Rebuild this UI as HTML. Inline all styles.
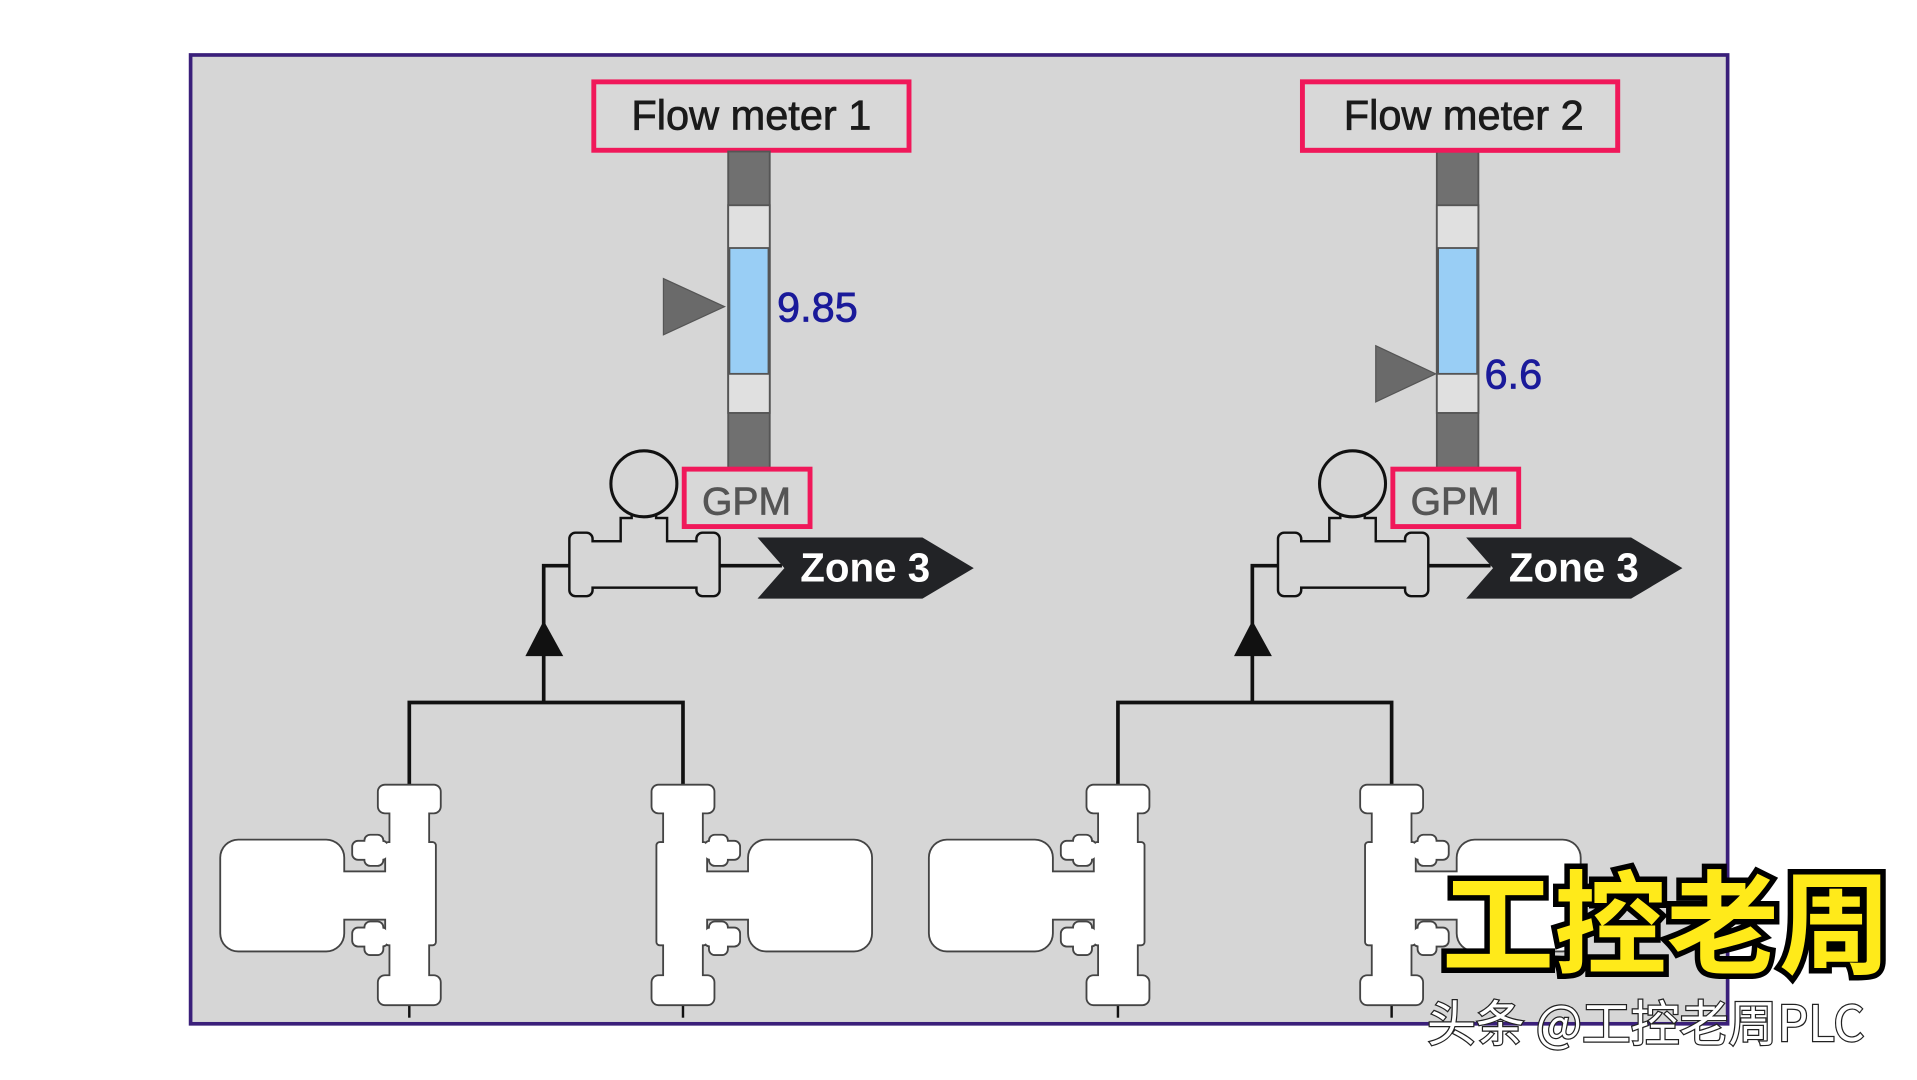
<!DOCTYPE html>
<html><head><meta charset="utf-8"><style>
html,body{margin:0;padding:0;background:#fff;width:1917px;height:1080px;overflow:hidden}
svg{display:block}
text{font-family:"Liberation Sans","Noto Sans CJK SC",sans-serif}
</style></head><body>
<svg width="1917" height="1080" viewBox="0 0 1569 884" preserveAspectRatio="none" xmlns="http://www.w3.org/2000/svg">
<defs>
<g id="pumpShapes">
  <rect x="-25" y="643" width="50" height="22" rx="5"/>
  <rect x="-15.5" y="660" width="31" height="35"/>
  <rect x="-19" y="690" width="40" height="83" rx="2"/>
  <rect x="-15.5" y="768" width="31" height="35"/>
  <rect x="-25" y="799" width="50" height="23" rx="5"/>
  <rect x="-154" y="688" width="100" height="90" rx="14"/>
  <rect x="-58" y="714" width="42" height="38"/>
  <rect x="-46" y="689" width="28" height="14" rx="4"/>
  <rect x="-36" y="684" width="14" height="24" rx="4"/>
  <rect x="-46" y="760" width="28" height="14" rx="4"/>
  <rect x="-36" y="755" width="14" height="26" rx="4"/>
</g>
<g id="pump">
  <use href="#pumpShapes" fill="#fff" stroke="#444" stroke-width="3"/>
  <use href="#pumpShapes" fill="#fff" stroke="none"/>
</g>
<g id="pipeShapes">
  <rect x="467" y="437" width="17" height="50" rx="4"/>
  <rect x="571" y="437" width="17" height="50" rx="4"/>
  <rect x="478" y="444" width="99" height="36"/>
  <rect x="509" y="425" width="36" height="22"/>
  <rect x="518" y="405" width="18" height="25"/>
</g>
<g id="unit">
  <rect x="486" y="67" width="258" height="56" fill="#d8d8d8" stroke="#f0185a" stroke-width="4"/>
  <text x="615" y="106" font-size="34" text-anchor="middle" fill="#1a1a1a" stroke="#1a1a1a" stroke-width="0.6">Flow meter 1</text>
  <rect x="596" y="124" width="34" height="259" fill="#707070" stroke="#555" stroke-width="1.5"/>
  <rect x="596" y="168" width="34" height="170" fill="#e0e0e0" stroke="#555" stroke-width="1.5"/>
  <polyline points="467,463 445,463 445,575" fill="none" stroke="#111" stroke-width="3"/>
  <polyline points="335,643 335,575 559,575 559,643" fill="none" stroke="#111" stroke-width="3"/>
  <line x1="588" y1="463" x2="640" y2="463" stroke="#111" stroke-width="3"/>
  <polygon points="445,508 430,537 461,537" fill="#111"/>
  <line x1="335" y1="822" x2="335" y2="833" stroke="#111" stroke-width="2"/>
  <line x1="559" y1="822" x2="559" y2="833" stroke="#111" stroke-width="2"/>
  <use href="#pipeShapes" fill="#d6d6d6" stroke="#111" stroke-width="4"/>
  <use href="#pipeShapes" fill="#d6d6d6" stroke="none"/>
  <circle cx="527" cy="396" r="26" fill="#d6d6d6"/>
  <circle cx="527" cy="396" r="27" fill="none" stroke="#111" stroke-width="2.5"/>
  <rect x="560" y="384" width="103" height="47" fill="#d8d8d8" stroke="#f0185a" stroke-width="4"/>
  <text x="611" y="421" font-size="32" text-anchor="middle" fill="#555" stroke="#555" stroke-width="0.6">GPM</text>
  <polygon points="620,440 755,440 797,465 755,490 620,490 642,465" fill="#222326"/>
  <text x="655" y="476" font-size="33" fill="#fff" font-weight="bold">Zone 3</text>
  <use href="#pump" transform="translate(335,0)"/>
  <use href="#pump" transform="translate(559,0) scale(-1,1)"/>
</g>
</defs>
<rect x="156" y="45" width="1258" height="793" fill="#d6d6d6" stroke="#3a1f7a" stroke-width="3"/>
<use href="#unit"/>
<use href="#unit" transform="translate(580,0)"/>
<rect x="1066" y="67" width="258" height="56" fill="#d8d8d8" stroke="#f0185a" stroke-width="4"/>
<text x="1198" y="106" font-size="34" text-anchor="middle" fill="#1a1a1a" stroke="#1a1a1a" stroke-width="0.6">Flow meter 2</text>
<rect x="597" y="203" width="32" height="103" fill="#99cef5" stroke="#555" stroke-width="1.5"/>
<polygon points="543,228 543,274 593,251" fill="#6a6a6a" stroke="#555"/>
<text x="636" y="263" font-size="34" fill="#1a1a9a" stroke="#1a1a9a" stroke-width="0.6">9.85</text>
<rect x="1177" y="203" width="32" height="103" fill="#99cef5" stroke="#555" stroke-width="1.5"/>
<polygon points="1126,283 1126,329 1175,306" fill="#6a6a6a" stroke="#555"/>
<text x="1215" y="318" font-size="34" fill="#1a1a9a" stroke="#1a1a9a" stroke-width="0.6">6.6</text>
<text x="1180" y="790" font-size="92" font-weight="bold" fill="#ffea1a" stroke="#000" stroke-width="9" paint-order="stroke" style="font-family:'Noto Sans CJK SC',sans-serif">工控老周</text>
<text x="1168" y="852" font-size="40" fill="#fff" stroke="#222" stroke-width="2" paint-order="stroke" style="font-family:'Noto Sans CJK SC',sans-serif">头条 @工控老周PLC</text>
</svg>
</body></html>
